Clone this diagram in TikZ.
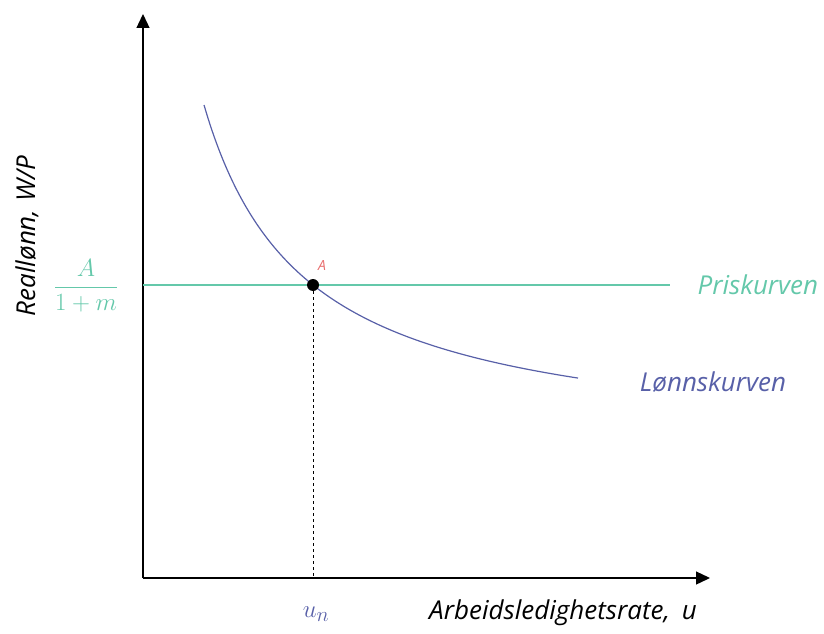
\documentclass[tikz,border=0pt]{standalone}
\usepackage{fontspec}
\setmainfont{Open Sans}
\usepackage{amsmath}
\usepackage{tikz}
\usetikzlibrary{arrows.meta, positioning, calc}

\definecolor{prisgreen}{RGB}{100,200,170}
\definecolor{lonnblue}{RGB}{88,96,168}
\definecolor{pointred}{RGB}{232,110,110}

\begin{document}
\begin{tikzpicture}[
    x=1pt, y=-1pt,
    axis/.style={line width=1.3pt, -{Triangle[length=14pt,width=13pt]}},
    axlabel/.style={font=\fontsize{26}{31}\selectfont\itshape},
    pris/.style={draw=prisgreen, line width=1.3pt},
    lonn/.style={draw=lonnblue, line width=1.2pt},
    guide/.style={dashed, line width=1pt}
]
\useasboundingbox (0,0) rectangle (824,634);

% Axes
\coordinate (O) at (143,578);
\coordinate (ytop) at (143,14);
\coordinate (xend) at (710,578);
\draw [axis] (O) -- (ytop);
\draw [axis] (O) -- (xend);

% Priskurven
\coordinate (prisstart) at (143,285);
\coordinate (prisend) at (670,285);
\draw [pris] (prisstart) -- (prisend);
\node (prislabel) [axlabel, text=prisgreen, right=24pt of prisend] {Priskurven};
\node (frac) [text=prisgreen, font=\fontsize{30}{35}\selectfont] at (86,286) {$\dfrac{A}{1+m}$};

% Lonnskurven
\draw [lonn] plot [domain=204:578, samples=80, smooth] (\x, {451.8-350.26/((\x-103)/100)});
\node (lonnlabel) [axlabel, text=lonnblue] at (713,382) {Lønnskurven};

% Likevekt
\node (A) [circle, fill=black, inner sep=0pt, minimum size=12pt] at (313,285) {};
\node (Alabel) [text=pointred, font=\fontsize{14}{16}\selectfont\itshape] at (322,265) {A};
\coordinate (unfoot) at (O -| A);
\draw [guide] (A) -- (unfoot);
\node (un) [text=lonnblue, font=\fontsize{28}{32}\selectfont] at (316,614) {$u_n$};

% Akselabels
\node (xlabel) [axlabel] at (563,613) {Arbeidsledighetsrate,\hspace{0.45em}u};
\node (ylabel) [axlabel, rotate=90] at (27,236) {Reallønn,\hspace{0.3em}W/P};

\end{tikzpicture}
\end{document}
